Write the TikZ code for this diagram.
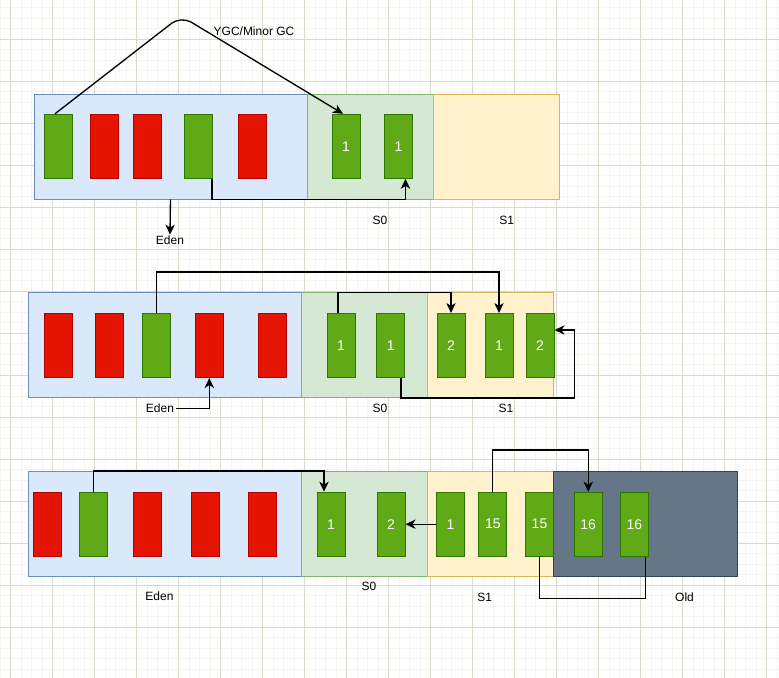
\documentclass[tikz,border=0pt]{standalone}
\usepackage{fontspec}
\setmainfont{Liberation Sans}
\usetikzlibrary{arrows.meta,calc}
\definecolor{gfill}{HTML}{60A917}
\definecolor{gdraw}{HTML}{2D7600}
\definecolor{rfill}{HTML}{E51400}
\definecolor{rdraw}{HTML}{B20000}
\definecolor{edenF}{HTML}{DAE8FC}
\definecolor{edenD}{HTML}{6C8EBF}
\definecolor{szF}{HTML}{D5E8D4}
\definecolor{szD}{HTML}{82B366}
\definecolor{soF}{HTML}{FFF2CC}
\definecolor{soD}{HTML}{D6B656}
\definecolor{oldF}{HTML}{647687}
\definecolor{oldD}{HTML}{314354}
\definecolor{gridmin}{RGB}{245,245,239}
\definecolor{gridmaj}{RGB}{217,217,204}
\tikzset{
  area/.style={draw, line width=0.75pt, inner sep=0pt, minimum height=78.75pt},
  edenbox/.style={area, fill=edenF, draw=edenD, minimum width=204.75pt},
  szbox/.style={area, fill=szF, draw=szD, minimum width=94.5pt},
  sobox/.style={area, fill=soF, draw=soD, minimum width=94.5pt},
  oldbox/.style={area, fill=oldF, draw=oldD, minimum width=138pt},
  obj/.style={draw, line width=0.75pt, inner sep=0pt, minimum width=21pt, minimum height=48pt,
    text=white, font=\fontsize{10.5pt}{12pt}\selectfont},
  live/.style={obj, fill=gfill, draw=gdraw},
  dead/.style={obj, fill=rfill, draw=rdraw},
  lbl/.style={inner sep=1pt, font=\fontsize{9pt}{10pt}\selectfont, text=black},
  conn/.style={line width=1pt, black},
  arr/.style={conn, -{Stealth[length=7.5pt,width=7pt,inset=2.2pt]}}
}
\begin{document}
\begin{tikzpicture}[x=0.75pt,y=-0.75pt]
\useasboundingbox (0,0) rectangle (779,678);
\fill[white] (0,0) rectangle (779,678);
% grid
\foreach \i in {0,...,74} {
  \draw[gridmin, line width=0.75pt] ({0.2+10.5*\i},0) -- ({0.2+10.5*\i},678);
}
\foreach \i in {0,...,64} {
  \draw[gridmin, line width=0.75pt] (0,{7.8+10.5*\i}) -- (779,{7.8+10.5*\i});
}
\foreach \i in {0,...,18} {
  \draw[gridmaj, line width=0.75pt] ({10.7+42*\i},0) -- ({10.7+42*\i},678);
}
\foreach \i in {0,...,15} {
  \draw[gridmaj, line width=0.75pt] (0,{-2.7+42*\i}) -- (779,{-2.7+42*\i});
}

% ---------- Row 1 ----------
\node[edenbox] (edenA) at (170.5,146.5) {};
\node[szbox] (szA) at (370,146.5) {};
\node[sobox] (soA) at (496,146.5) {};
\node[live] (a1) at (58,146.3) {};
\node[dead] (a2) at (104.3,146.3) {};
\node[dead] (a3) at (147.4,146.3) {};
\node[live] (a4) at (198.9,146.3) {};
\node[dead] (a5) at (252.3,146.3) {};
\node[live] (a6) at (346,146.3) {1};
\node[live] (a7) at (398.5,146.3) {1};
\node[lbl] (ygc) at (254,31) {YGC/Minor GC};
\node[lbl] (edenLA) at (170,240.7) {Eden};
\node[lbl] (szLA) at (380,220) {S0};
\node[lbl] (soLA) at (506.7,220) {S1};
\coordinate (peak) at (181,16);
\draw[arr, rounded corners=9pt] ($(a1.north)+(-3,0)$) -- (peak) -- ($(a6.north)+(-3,0)$);
\draw[arr] ($(a4.south)+(13,0)$) -- ++(0,20.7) -| ($(a7.south)+(7,0)$);
\draw[arr] (edenA.south) -- (edenLA.north);

% ---------- Row 2 ----------
\node[edenbox] (edenB) at (165,345.2) {};
\node[szbox] (szB) at (364.5,345.2) {};
\node[sobox] (soB) at (490.5,345.2) {};
\node[dead] (b1) at (58.2,345.5) {};
\node[dead] (b2) at (109,345.5) {};
\node[live] (b3) at (156.5,345.5) {};
\node[dead] (b4) at (209.3,345.5) {};
\node[dead] (b5) at (272.2,345.5) {};
\node[live] (b6) at (341,345.5) {1};
\node[live] (b7) at (390.7,345.5) {1};
\node[live] (b8) at (451,345.5) {2};
\node[live] (b9) at (499,345.5) {1};
\node[live] (b10) at (540,345.5) {2};
\node[lbl] (edenLB) at (160,408.3) {Eden};
\node[lbl] (szLB) at (380,408.3) {S0};
\node[lbl] (soLB) at (506,408.3) {S1};
\draw[arr] (b3.north) -- ++(0,-41) -| (b9.north);
\draw[arr] ($(b6.north)+(-3,0)$) -- ++(0,-20.6) -| (b8.north);
\draw[arr] ($(b7.south)+(10.3,0)$) -- ++(0,20) -- ++(173.4,0) |- ($(b10.east)+(0,-15.5)$);
\draw[arr] (edenLB.east) -| (b4.south);

% ---------- Row 3 ----------
\node[edenbox] (edenC) at (165,524.2) {};
\node[szbox] (szC) at (364.5,524.2) {};
\node[sobox] (soC) at (490.5,524.2) {};
\node[oldbox] (oldC) at (645.3,524.2) {};
\node[dead] (c1) at (47.5,524.2) {};
\node[live] (c2) at (93.7,524.2) {};
\node[dead] (c3) at (147.3,524.2) {};
\node[dead] (c4) at (205,524.2) {};
\node[dead] (c5) at (262.5,524.2) {};
\node[live] (c6) at (331,524.2) {1};
\node[live] (c7) at (391,524.2) {2};
\node[live] (c8) at (450.6,524.2) {1};
\node[live] (c9) at (492.8,524.2) {15};
\node[live] (c10) at (539.5,524.2) {15};
\node[live] (c11) at (588.2,524.2) {16};
\node[live] (c12) at (634.4,524.2) {16};
\node[lbl] (edenLC) at (159.5,596.7) {Eden};
\node[lbl] (szLC) at (369,586.7) {S0};
\node[lbl] (soLC) at (484.8,597) {S1};
\node[lbl] (oldLC) at (684.5,597) {Old};
\draw[arr] (c2.north) -- ++(0,-20.6) -| ($(c6.north)+(-7,0)$);
\draw[arr] (c8.west) -- (c7.east);
\draw[arr] (c9.north) -- ++(0,-41.6) -| (c11.north);
\draw[conn] (c10.south) -- ++(0,41.7) -| ($(c12.south)+(11.4,0)$);
\end{tikzpicture}
\end{document}
